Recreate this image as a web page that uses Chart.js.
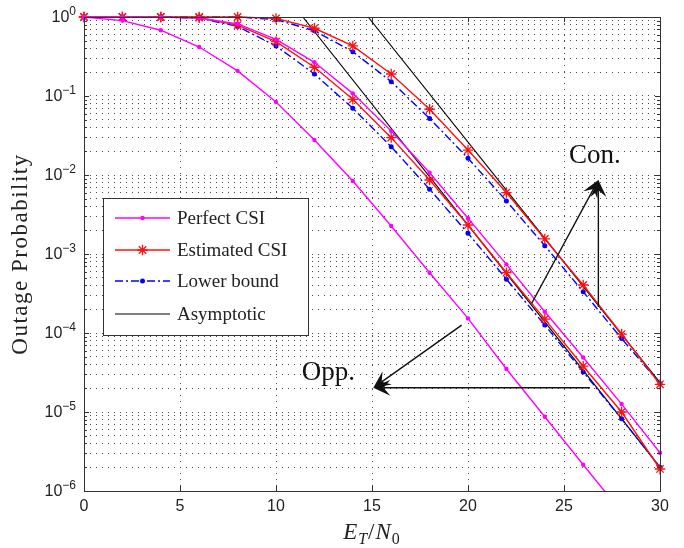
<!DOCTYPE html>
<html lang="en">
<head>
    <meta charset="UTF-8">
    <title>Outage Probability vs ET/N0</title>
    <style>
        body { margin: 0; background: #fff; }
        canvas { display: block; }
    </style>
</head>
<body>
    <canvas id="outageChart" width="684" height="548"></canvas>

    <script src="https://cdn.jsdelivr.net/npm/chart.js"></script>
    <script>
        // ET/N0 (dB) sample points
        const snr = [0, 2, 4, 6, 8, 10, 12, 14, 16, 18, 20, 22, 24, 26, 28, 30];

        // left-most perfect CSI curve (runs off the bottom after 26 dB)
        const perfectLow = [1.0, 0.90, 0.68, 0.417, 0.208, 0.084, 0.0277, 0.0084, 0.00226, 5.8e-4, 1.53e-4, 3.5e-5, 8.7e-6, 2.15e-6, 5.4e-7];

        // middle group
        const perfectMid = [1.0, 1.0, 0.995, 0.97, 0.82, 0.52, 0.267, 0.108, 0.036, 0.0107, 0.00283, 7.4e-4, 1.86e-4, 4.9e-5, 1.26e-5, 3.05e-6];
        const estimatedMid = [1.0, 1.0, 1.0, 0.98, 0.79, 0.487, 0.231, 0.0908, 0.0297, 0.00865, 0.00233, 5.8e-4, 1.5e-4, 3.8e-5, 1.0e-5, 1.9e-6];
        const lowerMid = [1.0, 1.0, 1.0, 0.97, 0.76, 0.43, 0.19, 0.07, 0.0228, 0.0066, 0.00183, 4.8e-4, 1.26e-4, 3.2e-5, 8.2e-6, 2.0e-6];

        // right group
        const estimatedHigh = [1.0, 1.0, 1.0, 1.0, 1.0, 0.96, 0.72, 0.43, 0.19, 0.068, 0.0207, 0.006, 0.00155, 4.05e-4, 9.7e-5, 2.24e-5];
        const lowerHigh = [1.0, 1.0, 1.0, 1.0, 1.0, 0.93, 0.67, 0.364, 0.152, 0.052, 0.0163, 0.0047, 0.00127, 3.33e-4, 8.5e-5, 2.3e-5];

        // high-SNR asymptotes (straight lines on the log axis)
        const asymMidX = [11.4, 30];
        const asymMidY = [1.0, 2.0e-6];
        const asymHighX = [14.8, 30];
        const asymHighY = [1.0, 2.35e-5];

        // axis ticks
        const xTicks = [0, 5, 10, 15, 20, 25, 30];
        const yDecades = [-6, -5, -4, -3, -2, -1, 0];

        // annotation arrows, in data units [x, y]
        const conTip = [26.79, 8.65e-3];
        const conTails = [[26.79, 2.15e-4], [23.32, 2.38e-4]];
        const oppTip = [15.07, 2.03e-5];
        const oppTails = [[26.35, 2.03e-5], [19.67, 1.26e-4]];
        const conLabel = [25.26, 0.0143];
        const oppLabel = [11.34, 2.54e-5];

        const legendItems = ['Perfect CSI', 'Estimated CSI', 'Lower bound', 'Asymptotic'];

        const MAGENTA = '#ff00ff', RED = '#ff1010', BLUE = '#0000ff', BLACK = '#000000';
        const SERIF = '"Liberation Serif", "DejaVu Serif", serif';
        const SANS = '"Liberation Sans", Arial, sans-serif';

        // markers may sit on the frame, but lines stay inside at the bottom
        const CLIP = { left: 8, top: 8, right: 8, bottom: 0 };

        // every decade gets 1..9 sub-ticks for the minor grid
        const yGrid = [];
        yDecades.forEach(d => {
            for (let m = 1; m <= 9; m++) {
                const v = m * Math.pow(10, d);
                if (v <= 1.0000001) yGrid.push(v);
            }
        });

        const pts = (xs, ys) => ys.map((y, i) => ({ x: xs[i], y: y }));

        function perfectSet(ys) {
            return {
                data: pts(snr, ys), borderColor: MAGENTA, backgroundColor: MAGENTA, clip: CLIP,
                borderWidth: 1.4, pointRadius: 2.2, pointBorderWidth: 0, pointStyle: 'circle'
            };
        }
        function estimatedSet(ys) {
            return {
                data: pts(snr, ys), borderColor: RED, backgroundColor: RED, clip: CLIP,
                borderWidth: 1.4, pointRadius: 5.2, pointBorderWidth: 1.3, pointStyle: 'star'
            };
        }
        function lowerSet(ys) {
            return {
                data: pts(snr, ys), borderColor: BLUE, backgroundColor: BLUE, clip: CLIP,
                borderWidth: 1.4, borderDash: [8, 3, 2, 3], pointRadius: 2.5, pointBorderWidth: 0, pointStyle: 'circle'
            };
        }
        function asymSet(xs, ys) {
            return { data: pts(xs, ys), borderColor: BLACK, borderWidth: 1.2, pointRadius: 0, clip: CLIP };
        }

        function drawArrow(ctx, x0, y0, x1, y1) {
            const ang = Math.atan2(y1 - y0, x1 - x0);
            const len = 17, half = 8;
            ctx.beginPath();
            ctx.moveTo(x0, y0);
            ctx.lineTo(x1 - Math.cos(ang) * len * 0.6, y1 - Math.sin(ang) * len * 0.6);
            ctx.stroke();
            const bx = x1 - Math.cos(ang) * len, by = y1 - Math.sin(ang) * len;
            const nx = -Math.sin(ang), ny = Math.cos(ang);
            ctx.beginPath();
            ctx.moveTo(x1, y1);
            ctx.lineTo(bx + nx * half, by + ny * half);
            ctx.lineTo(x1 - Math.cos(ang) * len * 0.6, y1 - Math.sin(ang) * len * 0.6);
            ctx.lineTo(bx - nx * half, by - ny * half);
            ctx.closePath();
            ctx.fill();
        }

        const overlay = {
            id: 'overlay',
            afterDatasetsDraw(chart) {
                const ctx = chart.ctx;
                const xs = chart.scales.x, ys = chart.scales.y;
                const a = chart.chartArea;
                const px = v => xs.getPixelForValue(v);
                const py = v => ys.getPixelForValue(v);

                ctx.save();

                // arrows
                ctx.strokeStyle = '#111';
                ctx.fillStyle = '#111';
                ctx.lineWidth = 1.4;
                conTails.forEach(t => drawArrow(ctx, px(t[0]), py(t[1]), px(conTip[0]), py(conTip[1])));
                oppTails.forEach(t => drawArrow(ctx, px(t[0]), py(t[1]), px(oppTip[0]), py(oppTip[1])));

                ctx.fillStyle = '#111';
                ctx.font = '27px ' + SERIF;
                ctx.textAlign = 'left';
                ctx.textBaseline = 'alphabetic';
                ctx.fillText('Con.', px(conLabel[0]), py(conLabel[1]));
                ctx.fillText('Opp.', px(oppLabel[0]), py(oppLabel[1]));

                // legend box
                const lx = 103, ly = 198, lw = 205, lh = 137;
                ctx.fillStyle = '#fff';
                ctx.fillRect(lx, ly, lw, lh);
                ctx.strokeStyle = '#333';
                ctx.lineWidth = 1;
                ctx.strokeRect(lx + 0.5, ly + 0.5, lw, lh);
                const rows = [218, 250, 281, 314];
                const styles = chart.data.datasets;
                [styles[0], styles[2], styles[3], styles[6]].forEach((ds, i) => {
                    const y = rows[i];
                    ctx.strokeStyle = ds.borderColor;
                    ctx.lineWidth = ds.borderWidth;
                    ctx.setLineDash(ds.borderDash || []);
                    ctx.beginPath();
                    ctx.moveTo(115, y);
                    ctx.lineTo(170, y);
                    ctx.stroke();
                    ctx.setLineDash([]);
                    if (ds.pointStyle === 'circle') {
                        ctx.fillStyle = ds.backgroundColor;
                        ctx.beginPath();
                        ctx.arc(142.5, y, ds.pointRadius, 0, Math.PI * 2);
                        ctx.fill();
                    } else if (ds.pointStyle === 'star') {
                        ctx.lineWidth = ds.pointBorderWidth;
                        const r = ds.pointRadius;
                        ctx.beginPath();
                        for (let k = 0; k < 4; k++) {
                            const t = k * Math.PI / 4;
                            ctx.moveTo(142.5 + Math.cos(t) * r, y + Math.sin(t) * r);
                            ctx.lineTo(142.5 - Math.cos(t) * r, y - Math.sin(t) * r);
                        }
                        ctx.stroke();
                    }
                    ctx.fillStyle = '#222';
                    ctx.font = '19px ' + SERIF;
                    ctx.textBaseline = 'middle';
                    ctx.fillText(legendItems[i], 177, y + 1);
                });

                // axes box and inward ticks
                ctx.strokeStyle = '#333';
                ctx.lineWidth = 1;
                ctx.strokeRect(Math.round(a.left) + 0.5, Math.round(a.top) + 0.5,
                    Math.round(a.right - a.left), Math.round(a.bottom - a.top));
                ctx.beginPath();
                xTicks.forEach(v => {
                    const x = Math.round(px(v)) + 0.5;
                    ctx.moveTo(x, a.bottom); ctx.lineTo(x, a.bottom - 5);
                    ctx.moveTo(x, a.top); ctx.lineTo(x, a.top + 5);
                });
                yGrid.forEach(v => {
                    const y = Math.round(py(v)) + 0.5;
                    const major = Math.abs(Math.log10(v) - Math.round(Math.log10(v))) < 1e-9;
                    const len = major ? 5 : 3;
                    ctx.moveTo(a.left, y); ctx.lineTo(a.left + len, y);
                    ctx.moveTo(a.right, y); ctx.lineTo(a.right - len, y);
                });
                ctx.stroke();

                // tick labels
                ctx.fillStyle = '#222';
                ctx.font = '16px ' + SANS;
                ctx.textAlign = 'center';
                ctx.textBaseline = 'middle';
                xTicks.forEach(v => ctx.fillText(String(v), px(v), 507));

                yDecades.forEach(d => {
                    const y = py(Math.pow(10, d));
                    const exp = d < 0 ? '\u2212' + (-d) : String(d);
                    ctx.font = '12px ' + SANS;
                    const ew = ctx.measureText(exp).width;
                    ctx.textAlign = 'left';
                    ctx.textBaseline = 'alphabetic';
                    ctx.fillText(exp, 76 - ew, y - 2);
                    ctx.font = '16px ' + SANS;
                    ctx.textAlign = 'right';
                    ctx.textBaseline = 'middle';
                    ctx.fillText('10', 76 - ew, y + 1);
                });

                // x title: E_T / N_0
                const parts = [
                    { t: 'E', f: 'italic 23px ' + SERIF, dy: 0 },
                    { t: 'T', f: 'italic 16px ' + SERIF, dy: 5 },
                    { t: '/', f: '23px ' + SERIF, dy: 0 },
                    { t: 'N', f: 'italic 23px ' + SERIF, dy: 0 },
                    { t: '0', f: '16px ' + SERIF, dy: 5 }
                ];
                let total = 0;
                parts.forEach(p => { ctx.font = p.f; p.w = ctx.measureText(p.t).width; total += p.w + 1; });
                let cx = (a.left + a.right) / 2 - total / 2;
                ctx.textAlign = 'left';
                ctx.textBaseline = 'alphabetic';
                parts.forEach(p => {
                    ctx.font = p.f;
                    ctx.fillText(p.t, cx, 539 + p.dy);
                    cx += p.w + 1;
                });

                // y title
                ctx.translate(21, (a.top + a.bottom) / 2);
                ctx.rotate(-Math.PI / 2);
                ctx.font = '23px ' + SERIF;
                ctx.letterSpacing = '1.5px';
                ctx.textAlign = 'center';
                ctx.textBaseline = 'middle';
                ctx.fillText('Outage Probability', 0, 0);

                ctx.restore();
            }
        };

        const ctx = document.getElementById('outageChart').getContext('2d');
        new Chart(ctx, {
            type: 'line',
            data: {
                datasets: [
                    perfectSet(perfectLow),
                    perfectSet(perfectMid),
                    estimatedSet(estimatedMid),
                    lowerSet(lowerMid),
                    estimatedSet(estimatedHigh),
                    lowerSet(lowerHigh),
                    asymSet(asymMidX, asymMidY),
                    asymSet(asymHighX, asymHighY)
                ]
            },
            options: {
                responsive: false,
                animation: false,
                devicePixelRatio: 1,
                layout: { padding: { left: 84, right: 24, top: 17, bottom: 57 } },
                plugins: { legend: { display: false }, tooltip: { enabled: false } },
                elements: { line: { tension: 0 } },
                scales: {
                    x: {
                        type: 'linear', min: 0, max: 30,
                        ticks: { display: false, stepSize: 5 },
                        grid: { color: '#4a4a4a', lineWidth: 1, drawTicks: false },
                        border: { display: false, dash: [1, 5] },
                        afterFit(s) { s.height = 0; }
                    },
                    y: {
                        type: 'logarithmic', min: 1e-6, max: 1,
                        ticks: { display: false },
                        grid: { color: '#4a4a4a', lineWidth: 1, drawTicks: false },
                        border: { display: false, dash: [1, 5] },
                        afterBuildTicks(s) { s.ticks = yGrid.map(v => ({ value: v })); },
                        afterFit(s) { s.width = 0; }
                    }
                }
            },
            plugins: [overlay]
        });
    </script>
</body>
</html>
